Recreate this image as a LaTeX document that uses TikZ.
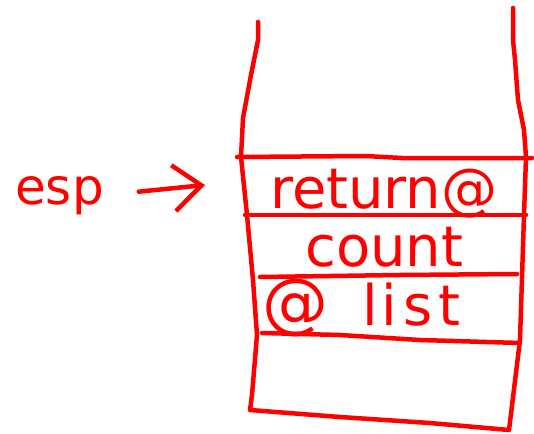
\documentclass[tikz,border=0pt]{standalone}
\usepackage{fontspec}
\setmainfont{DejaVu Sans}
\usetikzlibrary{arrows.meta, positioning}

\begin{document}
\begin{tikzpicture}[
    x=1pt, y=-1pt,
    ink/.style={draw=red, line width=4.5pt, line cap=round, line join=round},
    lbl/.style={text=red, inner sep=0pt, anchor=base west,
      font=\fontsize{56}{60}\selectfont},
    arr/.style={ink, -{Straight Barb[length=28pt, width=46pt, line width=4.5pt]}},
  ]
  \useasboundingbox (0,0) rectangle (534,433);
  % stack walls and floor
  \draw[ink] (258,22) -- (258,40) -- (251,75) -- (243,118) -- (241,157)
    -- (247,215) -- (253,280) -- (257,335) -- (252,395) -- (250,410)
    -- (340,417) -- (430,423) -- (509,430) -- (520,340) -- (524,215)
    -- (526,157) -- (524,130) -- (518,100) -- (515,60) -- (513,40) -- (513,8);
  % slot dividers
  \draw[ink] (237,157) -- (365,156) -- (402,158) -- (532,158);
  \draw[ink] (245,215) -- (526,215);
  \draw[ink] (260,277) -- (400,275) -- (517,274);
  \draw[ink] (262,333) -- (340,335) -- (420,340) -- (520,343);
  % slot contents
  \node[lbl] (ret) at (270,208) {return@};
  \node[lbl] (cnt) at (305,266) {count};
  \node[lbl] (lst) at (262,325)
    {{\fontsize{66}{70}\selectfont @}\hspace{34pt}l\hspace{4pt}i\hspace{6pt}s\hspace{6pt}t};
  % stack pointer
  \node[lbl, font=\fontsize{50}{54}\selectfont] (esp) at (15,204) {esp};
  \coordinate (tip) at (205,185);
  \draw[arr, shorten <=35pt] (esp.east) -- (tip);
\end{tikzpicture}
\end{document}
